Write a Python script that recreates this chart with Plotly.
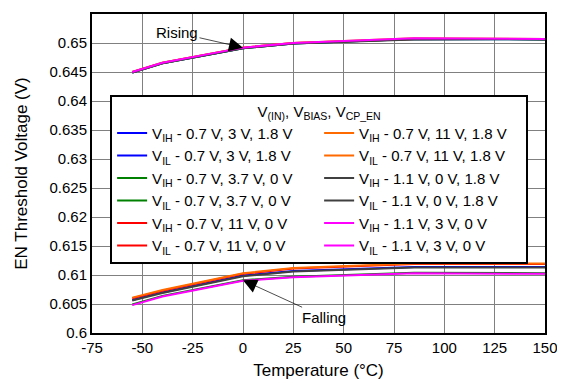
import plotly.graph_objects as go

temps = [-55, -40, 0, 25, 85, 125, 150]

# Rising (VIH) thresholds
vih_blue = [0.6449, 0.6465, 0.6491, 0.6499, 0.6507, 0.6507, 0.6506]
vih_green = [0.6449, 0.6465, 0.6491, 0.6499, 0.6507, 0.6507, 0.6506]
vih_red = [0.6450, 0.6466, 0.6492, 0.6500, 0.6507, 0.6507, 0.6507]
vih_orange = [0.6450, 0.6466, 0.6492, 0.6500, 0.6508, 0.6508, 0.6507]
vih_gray = [0.6449, 0.6465, 0.6491, 0.6499, 0.6506, 0.6507, 0.6506]
vih_magenta = [0.6450, 0.6466, 0.6492, 0.6500, 0.6508, 0.6508, 0.6507]

# Falling (VIL) thresholds
vil_blue = [0.6057, 0.6070, 0.6099, 0.6107, 0.6114, 0.6114, 0.6114]
vil_green = [0.6049, 0.6064, 0.6091, 0.6097, 0.6104, 0.6104, 0.6103]
vil_red = [0.6060, 0.6073, 0.6102, 0.6111, 0.6119, 0.6119, 0.6119]
vil_orange = [0.6061, 0.6074, 0.6103, 0.6112, 0.6120, 0.6120, 0.6120]
vil_gray = [0.6056, 0.6069, 0.6098, 0.6106, 0.6113, 0.6113, 0.6113]
vil_magenta = [0.6048, 0.6063, 0.6090, 0.6096, 0.6103, 0.6103, 0.6102]

series = [
    ("V<sub>IH</sub> - 0.7 V, 3 V, 1.8 V", vih_blue, "#0000FF", 1),
    ("V<sub>IL</sub> - 0.7 V, 3 V, 1.8 V", vil_blue, "#0000FF", 3),
    ("V<sub>IH</sub> - 0.7 V, 3.7 V, 0 V", vih_green, "#008000", 5),
    ("V<sub>IL</sub> - 0.7 V, 3.7 V, 0 V", vil_green, "#008000", 7),
    ("V<sub>IH</sub> - 0.7 V, 11 V, 0 V", vih_red, "#FF0000", 9),
    ("V<sub>IL</sub> - 0.7 V, 11 V, 0 V", vil_red, "#FF0000", 11),
    ("V<sub>IH</sub> - 0.7 V, 11 V, 1.8 V", vih_orange, "#FF6A00", 2),
    ("V<sub>IL</sub> - 0.7 V, 11 V, 1.8 V", vil_orange, "#FF6A00", 4),
    ("V<sub>IH</sub> - 1.1 V, 0 V, 1.8 V", vih_gray, "#404040", 6),
    ("V<sub>IL</sub> - 1.1 V, 0 V, 1.8 V", vil_gray, "#404040", 8),
    ("V<sub>IH</sub> - 1.1 V, 3 V, 0 V", vih_magenta, "#FF00FF", 10),
    ("V<sub>IL</sub> - 1.1 V, 3 V, 0 V", vil_magenta, "#FF00FF", 12),
]

x_ticks = [-75, -50, -25, 0, 25, 50, 75, 100, 125, 150]
y_ticks = [0.6, 0.605, 0.61, 0.615, 0.62, 0.625, 0.63, 0.635, 0.64, 0.645, 0.65, 0.655]

fig = go.Figure()
for name, vals, color, rank in series:
    fig.add_trace(go.Scatter(x=temps, y=vals, mode="lines", name=name,
                             line=dict(color=color, width=2), legendrank=rank))

font = "Liberation Sans, Arial, sans-serif"
fig.update_layout(
    width=557, height=375,
    margin=dict(l=84, r=20, t=6, b=50, autoexpand=False),
    paper_bgcolor="white", plot_bgcolor="white",
    font=dict(family=font, size=14, color="black"),
    showlegend=True,
    legend=dict(
        orientation="h",
        x=0.04, xanchor="left", y=0.745, yanchor="top",
        entrywidth=162, entrywidthmode="pixels",
        bgcolor="white", bordercolor="black", borderwidth=2,
        font=dict(family=font, size=15),
        title=dict(text="V<sub>(IN)</sub>, V<sub>BIAS</sub>, V<sub>CP_EN</sub>",
                   side="top center", font=dict(family=font, size=15)),
        itemwidth=30,
        tracegroupgap=0,
    ),
    xaxis=dict(range=[-75, 150], tickvals=x_ticks, ticktext=[str(v) for v in x_ticks],
               showgrid=True, gridcolor="#808080", gridwidth=1,
               showline=True, linecolor="black", linewidth=2, mirror=True,
               zeroline=False, ticks="", automargin=False,
               title=dict(text="Temperature (°C)", standoff=9),
               tickfont=dict(size=15)),
    yaxis=dict(range=[0.6, 0.655], tickvals=y_ticks, ticktext=[f"{v:g}" for v in y_ticks],
               showgrid=True, gridcolor="#808080", gridwidth=1,
               showline=True, linecolor="black", linewidth=2, mirror=True,
               zeroline=False, ticks="", automargin=False,
               title=dict(text="EN Threshold Voltage (V)", standoff=18),
               tickfont=dict(size=15)),
)

fig.add_annotation(x=0, y=0.6492, xref="x", yref="y", text="Rising",
                   ax=-66, ay=-15, showarrow=True, arrowhead=2, arrowsize=4,
                   arrowwidth=0.7, arrowcolor="black", font=dict(size=15))
fig.add_annotation(x=0, y=0.6091, xref="x", yref="y", text="Falling",
                   ax=81, ay=37, showarrow=True, arrowhead=2, arrowsize=4,
                   arrowwidth=0.7, arrowcolor="black", font=dict(size=15))

fig.write_html("out.html")
